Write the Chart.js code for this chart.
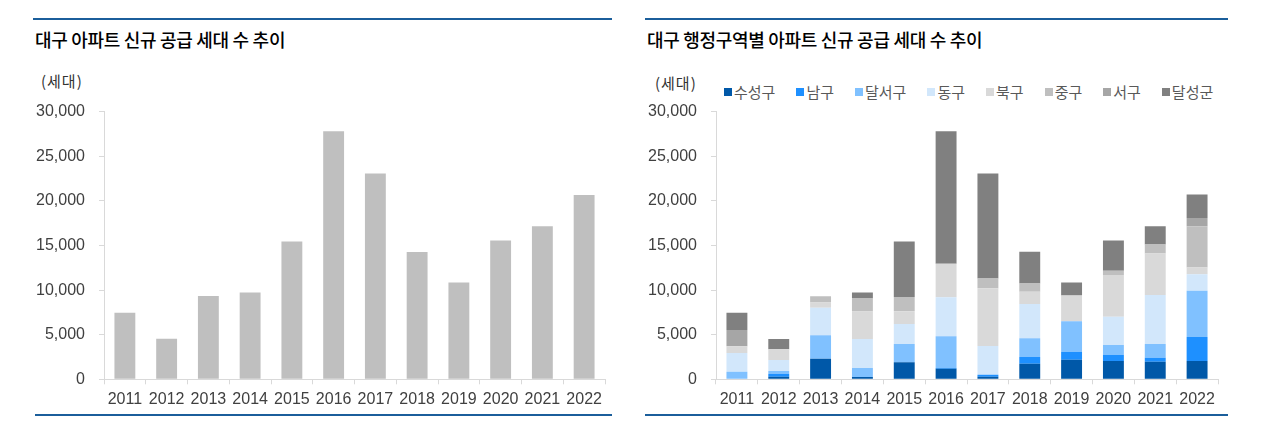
<!DOCTYPE html>
<html>
<head>
<meta charset="utf-8">
<script src="https://cdn.jsdelivr.net/npm/chart.js@4"></script>
<style>
  body { margin: 0; background: #fff; width: 1279px; height: 422px; position: relative; overflow: hidden; font-family: "Noto Sans CJK KR", sans-serif; }
  .rule { position: absolute; height: 2px; background: #1b5e9b; }
  .title { position: absolute; font-size: 18px; font-weight: 500; color: #000; letter-spacing: -0.3px; }
  .unit { position: absolute; font-size: 15px; color: #333; letter-spacing: 1px; }
  .box { position: absolute; }
  .legend { position: absolute; display: flex; gap: 21px; font-size: 15px; color: #595959; }
  .legend span { display: flex; align-items: center; }
  .legend i { display: inline-block; width: 8px; height: 8px; margin-right: 2px; }
</style>
</head>
<body>
<div class="rule" style="left:33px; top:18px; width:579px"></div>
<div class="rule" style="left:645px; top:18px; width:583px"></div>
<div class="title" style="left:35px; top:26px">대구 아파트 신규 공급 세대 수 추이</div>
<div class="title" style="left:647px; top:26px">대구 행정구역별 아파트 신규 공급 세대 수 추이</div>
<div class="unit" style="left:41px; top:70px">(세대)</div>
<div class="unit" style="left:655px; top:72px">(세대)</div>
<div class="legend" id="legend" style="left:724px; top:81px"></div>
<div class="box" style="left:30px; top:95px"><canvas id="total" width="585" height="315"></canvas></div>
<div class="box" style="left:640px; top:95px"><canvas id="district" width="590" height="315"></canvas></div>
<div class="rule" style="left:35px; top:414px; width:577px"></div>
<div class="rule" style="left:645px; top:414px; width:583px"></div>

<script>
const years = ["2011", "2012", "2013", "2014", "2015", "2016", "2017", "2018", "2019", "2020", "2021", "2022"];
const totalSupply = [7450, 4550, 9330, 9740, 15450, 27800, 23060, 14280, 10860, 15560, 17160, 20660];

const districts = ["수성구", "남구", "달서구", "동구", "북구", "중구", "서구", "달성군"];
const districtColors = ["#0058a8", "#1e90ff", "#80c1ff", "#d2e7fb", "#d9d9d9", "#bfbfbf", "#a6a6a6", "#808080"];
const suseong = [0, 290, 2300, 260, 1900, 1180, 290, 1750, 2190, 2050, 1970, 2050];
const namgu = [0, 300, 0, 0, 0, 90, 220, 750, 860, 670, 450, 2690];
const dalseo = [850, 340, 2650, 1000, 2050, 3550, 0, 2090, 3470, 1120, 1530, 5180];
const donggu = [2100, 1230, 3060, 3250, 2240, 4365, 3215, 3840, 0, 3170, 5490, 1870];
const bukgu = [750, 1200, 600, 3100, 1450, 3760, 6490, 1380, 2880, 4670, 4670, 750];
const junggu = [0, 0, 710, 1450, 1600, 0, 1085, 940, 0, 480, 1000, 4620];
const seogu = [1825, 0, 0, 0, 0, 0, 0, 0, 0, 0, 0, 930];
const dalseong = [1935, 1150, 0, 680, 6200, 14855, 11760, 3540, 1460, 3400, 2050, 2620];
const districtValues = [suseong, namgu, dalseo, donggu, bukgu, junggu, seogu, dalseong];

const yTicks = [0, 5000, 10000, 15000, 20000, 25000, 30000];

const tickFont = { family: "'Liberation Sans Narrow', 'Arial Narrow', sans-serif", size: 16 };
const axisColor = "#d9d9d9";

function axes(yWidth, stacked) {
  return {
    x: {
      stacked: stacked,
      grid: { display: true, drawOnChartArea: false, offset: true, color: axisColor, tickLength: 5 },
      border: { color: axisColor },
      ticks: { color: "#404040", font: tickFont, padding: 6, maxRotation: 0 },
      afterFit: (scale) => { scale.height = 30.7; }
    },
    y: {
      stacked: stacked,
      min: 0,
      max: 30000,
      afterBuildTicks: (scale) => { scale.ticks = yTicks.map(v => ({ value: v })); },
      grid: { display: true, drawOnChartArea: false, color: axisColor, tickLength: 5 },
      border: { color: axisColor },
      ticks: {
        color: "#404040", font: tickFont, padding: 14,
        callback: (v) => Number(v).toLocaleString("en-US")
      },
      afterFit: (scale) => {
        scale.width = yWidth;
        // keep the label padding from pushing the plot area down
        scale.paddingTop = 0;
        scale.paddingBottom = 0;
      }
    }
  };
}

// left chart - totals
new Chart(document.getElementById("total"), {
  type: "bar",
  data: {
    labels: years,
    datasets: [{
      data: totalSupply,
      backgroundColor: "#bfbfbf",
      barPercentage: 0.5,
      categoryPercentage: 1
    }]
  },
  options: {
    responsive: false,
    animation: false,
    layout: { padding: { top: 16.7, right: 10, left: 0, bottom: 0 } },
    plugins: { legend: { display: false }, tooltip: { enabled: false } },
    scales: axes(74, false)
  }
});

// right chart - by district
new Chart(document.getElementById("district"), {
  type: "bar",
  data: {
    labels: years,
    datasets: districts.map((name, i) => ({
      label: name,
      data: districtValues[i],
      backgroundColor: districtColors[i],
      barPercentage: 0.5,
      categoryPercentage: 1
    }))
  },
  options: {
    responsive: false,
    animation: false,
    layout: { padding: { top: 16.7, right: 12, left: 0, bottom: 0 } },
    plugins: { legend: { display: false }, tooltip: { enabled: false } },
    scales: axes(76, true)
  }
});

// legend
const legend = document.getElementById("legend");
districts.forEach((name, i) => {
  const item = document.createElement("span");
  item.innerHTML = `<i style="background:${districtColors[i]}"></i>${name}`;
  legend.appendChild(item);
});
</script>
</body>
</html>
